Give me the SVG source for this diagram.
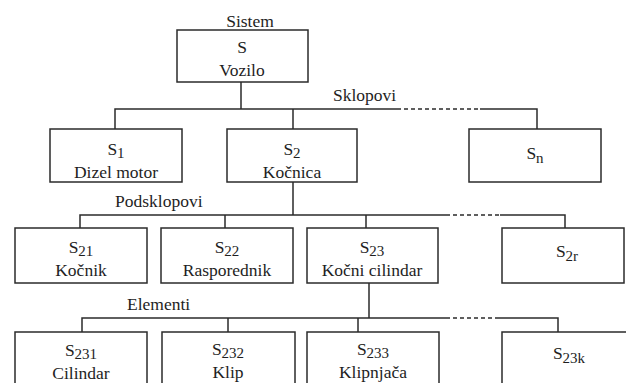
<svg xmlns="http://www.w3.org/2000/svg" width="626" height="383" viewBox="0 0 626 383">
<style>
.box{fill:#fff;stroke:#2b2b2b;stroke-width:1.5}
.ln{fill:none;stroke:#2b2b2b;stroke-width:1.5}
.dash{fill:none;stroke:#2b2b2b;stroke-width:1.5;stroke-dasharray:4 3}
.t{font-family:'Liberation Serif','Times New Roman',serif;font-size:17.5px;fill:#1e1e1e;text-anchor:middle}
.lbl{text-anchor:start}
.sub{font-size:15px}
</style>
<rect width="626" height="383" fill="#fff"/>
<g id="connectors">
<path class="ln" d="M241 82V109M115 129V109H397M480 109H537V129M293 109V129"/>
<path class="dash" d="M397 109H480"/>
<path class="ln" d="M293 182V215M80 228V215H446M500 215H565V228M225 215V228M366 215V228"/>
<path class="dash" d="M446 215H500"/>
<path class="ln" d="M369 283V318M82 332V318H446M495 318H558V332M228 318V332M358 318V332"/>
<path class="dash" d="M446 318H495"/>
</g>
<g id="labels">
<text class="t" x="250" y="27">Sistem</text>
<text class="t lbl" x="333" y="101">Sklopovi</text>
<text class="t lbl" x="115" y="207">Podsklopovi</text>
<text class="t lbl" x="127" y="310">Elementi</text>
</g>
<g id="S"><rect class="box" x="177" y="30" width="131" height="52"/><text class="t" x="242" y="53">S</text><text class="t" x="242" y="76">Vozilo</text></g>
<g id="S1"><rect class="box" x="50" y="129" width="132" height="53"/><text class="t" x="116" y="155">S<tspan class="sub" dy="3">1</tspan></text><text class="t" x="116" y="178">Dizel motor</text></g>
<g id="S2"><rect class="box" x="227" y="129" width="130" height="53"/><text class="t" x="292" y="155">S<tspan class="sub" dy="3">2</tspan></text><text class="t" x="292" y="178">Kočnica</text></g>
<g id="Sn"><rect class="box" x="469" y="129" width="132" height="53"/><text class="t" x="535" y="159">S<tspan class="sub" dy="4">n</tspan></text></g>
<g id="S21"><rect class="box" x="15" y="228" width="132" height="55"/><text class="t" x="81" y="253">S<tspan class="sub" dy="3">21</tspan></text><text class="t" x="81" y="276">Kočnik</text></g>
<g id="S22"><rect class="box" x="161" y="228" width="132" height="55"/><text class="t" x="227" y="253">S<tspan class="sub" dy="3">22</tspan></text><text class="t" x="227" y="276">Rasporednik</text></g>
<g id="S23"><rect class="box" x="307" y="228" width="131" height="55"/><text class="t" x="372" y="253">S<tspan class="sub" dy="3">23</tspan></text><text class="t" x="372" y="276">Kočni cilindar</text></g>
<g id="S2r"><rect class="box" x="502" y="228" width="122" height="55"/><text class="t" x="567" y="257">S<tspan class="sub" dy="4">2r</tspan></text></g>
<g id="S231"><rect class="box" x="15" y="332" width="132" height="60"/><text class="t" x="81" y="356">S<tspan class="sub" dy="3">231</tspan></text><text class="t" x="81" y="379">Cilindar</text></g>
<g id="S232"><rect class="box" x="162" y="332" width="133" height="60"/><text class="t" x="228" y="355">S<tspan class="sub" dy="3">232</tspan></text><text class="t" x="228" y="378">Klip</text></g>
<g id="S233"><rect class="box" x="307" y="332" width="132" height="60"/><text class="t" x="373" y="355">S<tspan class="sub" dy="3">233</tspan></text><text class="t" x="373" y="378">Klipnjača</text></g>
<g id="S23k"><rect class="box" x="502" y="332" width="130" height="60"/><text class="t" x="569" y="359">S<tspan class="sub" dy="4">23k</tspan></text></g>
</svg>
